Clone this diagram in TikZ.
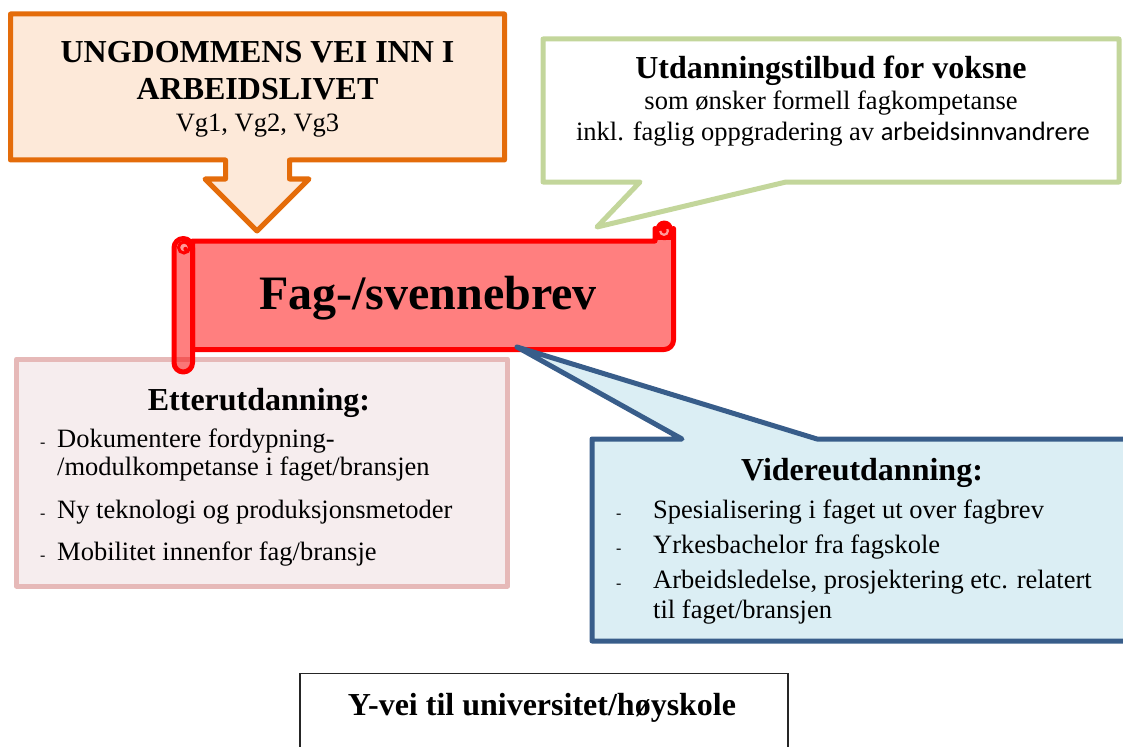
\documentclass[tikz,border=0pt]{standalone}
\usepackage{fontspec}
\setmainfont{Liberation Serif}
\newfontfamily\calibri{Carlito}
\definecolor{orangeline}{HTML}{E46C0A}
\definecolor{orangefill}{HTML}{FDE9D9}
\definecolor{greenline}{HTML}{C3D69B}
\definecolor{pinkline}{HTML}{E6B9B8}
\definecolor{pinkfill}{HTML}{F6EDEE}
\definecolor{blueline}{HTML}{385D8A}
\definecolor{bluefill}{HTML}{DBEEF4}
\definecolor{curlpink}{HTML}{FF9A9A}
\begin{document}
\begin{tikzpicture}[x=1pt,y=-1pt,
  shapeline/.style={line width=5pt, line join=round},
  head/.style={font=\fontsize{32}{36}\selectfont\bfseries, anchor=base, inner sep=0pt},
  bodytext/.style={font=\fontsize{26.5}{30}\selectfont, anchor=base, inner sep=0pt},
  itemtext/.style={bodytext, anchor=base west},
  dashmark/.style={font=\fontsize{16}{18}\selectfont, anchor=base west, inner sep=0pt}]
\useasboundingbox (0,0) rectangle (1123,746);
\clip (0,0) rectangle (1123,746);

% orange down-arrow callout
\draw[shapeline, draw=orangeline, fill=orangefill]
  (10.5,14) -- (504.5,14) -- (504.5,160) -- (289.5,160) -- (289.5,179)
  -- (309,179) -- (257,231) -- (205,179) -- (225.5,179) -- (225.5,160)
  -- (10.5,160) -- cycle;

% green speech callout
\draw[shapeline, draw=greenline, fill=white]
  (543,39) -- (1119,39) -- (1119,182) -- (786,182) -- (597,227)
  -- (640,182) -- (543,182) -- cycle;

% pink box
\draw[shapeline, draw=pinkline, fill=pinkfill] (16.5,359) rectangle (507.5,586);

% scroll banner
\draw[shapeline, draw=red, fill=red, fill opacity=0.5]
  (192.5,241) -- (655,241) -- (655,228.5)
  arc[start angle=180, end angle=0, radius=9.25]
  -- (673.5,340) arc[start angle=0, end angle=90, radius=9.5]
  -- (192.5,349.5) -- cycle;
\fill[red] (664.25,229) circle[radius=8.5];
\fill[red] (655,229) rectangle (673.5,240);
\draw[curlpink, line width=2.2pt] (660.2,231) arc[start angle=180, end angle=-30, radius=3.8];
\draw[shapeline, draw=red, fill=red, fill opacity=0.5, rounded corners=9.25pt]
  (174,238.5) rectangle (192.5,372);
\draw[red, line width=3pt, fill=curlpink] (184,247.5) circle[radius=5.5];
\fill[red] (185.5,249) circle[radius=2.2];

% blue speech callout
\draw[shapeline, draw=blueline, fill=bluefill]
  (592,439) -- (682,439) -- (517,347) -- (817,439) -- (1135,439)
  -- (1135,641) -- (592,641) -- cycle;

% bottom box
\draw[line width=1.3pt, draw=black!85] (300,673.5) rectangle (788,770);

% texts: orange
\node[head] (ung1) at (257.5,63) {UNGDOMMENS VEI INN I};
\node[head] (ung2) at (257.5,100) {ARBEIDSLIVET};
\node[bodytext] (vg) at (257.5,132) {Vg1, Vg2, Vg3};

% texts: green
\node[head] (utd) at (831,79) {Utdanningstilbud for voksne};
\node[bodytext] (som) at (831,110) {som ønsker formell fagkompetanse};
\node[bodytext] (inkl) at (833,141) {inkl. faglig oppgradering av {\calibri arbeidsinnvandrere}};

% scroll text
\node[font=\fontsize{48}{52}\selectfont\bfseries, anchor=base, inner sep=0pt] (fag) at (428,309) {Fag-/svennebrev};

% pink texts
\node[head] (ett) at (259,410) {Etterutdanning:};
\node[dashmark] (d1) at (40,447) {-};
\node[itemtext] (e1a) at (57,447) {Dokumentere fordypning-};
\node[itemtext] (e1b) at (57,475) {/modulkompetanse i faget/bransjen};
\node[dashmark] (d2) at (40,518) {-};
\node[itemtext] (e2) at (57,518) {Ny teknologi og produksjonsmetoder};
\node[dashmark] (d3) at (40,560) {-};
\node[itemtext] (e3) at (57,560) {Mobilitet innenfor fag/bransje};

% blue texts
\node[head] (vid) at (862,480) {Videreutdanning:};
\node[dashmark] (b1d) at (616,518) {-};
\node[itemtext] (b1) at (653,518) {Spesialisering i faget ut over fagbrev};
\node[dashmark] (b2d) at (616,553) {-};
\node[itemtext] (b2) at (653,553) {Yrkesbachelor fra fagskole};
\node[dashmark] (b3d) at (616,588) {-};
\node[itemtext] (b3a) at (653,588) {Arbeidsledelse, prosjektering etc. relatert};
\node[itemtext] (b3b) at (653,618) {til faget/bransjen};

% bottom text
\node[head] (yvei) at (542,715) {Y-vei til universitet/høyskole};
\end{tikzpicture}
\end{document}
